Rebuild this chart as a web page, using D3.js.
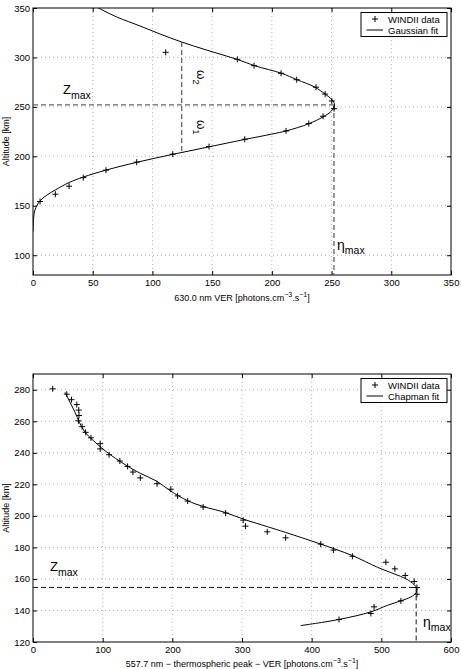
<!DOCTYPE html>
<html>
<head>
<meta charset="utf-8">
<script src="https://cdn.jsdelivr.net/npm/d3@7"></script>
<style>
  body { margin: 0; background: #fff; }
  text { font-family: "Liberation Sans", Arial, sans-serif; fill: #000; }
</style>
</head>
<body>
<svg id="fig" width="461" height="669"></svg>
<script>

// ---- 630.0 nm panel (Gaussian fit) : [VER, altitude km]
let redData = [
    [5.9, 154.3], [18.7, 161.7], [30.2, 169.8], [42.1, 178.5], [61.1, 186],
    [86.8, 194.1], [117, 202.2], [147.4, 209.9], [177.3, 217.3], [211.9, 225.7],
    [230.9, 233.1], [242.9, 240.5], [252.1, 248.2], [250.2, 256], [244.6, 263],
    [237, 269.9], [220.8, 277.5], [207.7, 284], [185.1, 291.7], [171.1, 298.1],
    [111.1, 305.2]
];
let redFit = [
    [0, 124], [0.4, 136], [1.7, 146], [5.9, 155], [11.5, 160.7], [18.7, 166],
    [30.2, 173.5], [42, 179], [61, 186], [87, 194], [117, 202], [147, 209.5],
    [177, 217], [200, 222.5], [212, 225.7], [231, 233], [243, 240], [250, 246],
    [252.5, 252], [250.5, 257], [244.5, 263], [236, 270], [221, 277.5], [208, 284],
    [186, 291.5], [171, 298], [145, 307.6], [124.5, 315.6], [106.4, 323.7],
    [89.6, 331.8], [70, 341], [54.7, 350]
];
let redXTicks = [0, 50, 100, 150, 200, 250, 300, 350];
let redYTicks = [100, 150, 200, 250, 300, 350];
let redPeak = {ver: 252, alt: 252};
let redOmega = {ver: 124.5, low: 204.5, high: 315.6};

// ---- 557.7 nm panel (Chapman fit)
let greenData = [
    [28.3, 280.6], [48.5, 277.2], [55.2, 273.7], [62.8, 270.6], [65.7, 267.1],
    [66, 263.7], [65.2, 260.3], [70.5, 256.6], [75.5, 253], [83.2, 249.5],
    [96.4, 245.8], [96.4, 242.5], [109.2, 238.8], [124.7, 234.8], [135.8, 231.4],
    [143.4, 227.8], [154, 224.1], [178, 220.4], [197.8, 216.9], [207.6, 212.7],
    [222, 209.4], [244.2, 205.6], [276.5, 201.8], [301.7, 197.3], [305, 193.5],
    [336.2, 189.9], [362.6, 186.1], [413, 182.1], [431.2, 178.3], [458.5, 174.4],
    [506.5, 170.6], [519.4, 166.4], [534.3, 162.2], [547.2, 158.4], [551.1, 154.6],
    [551.1, 150.3], [528.1, 146.1], [489.6, 142.3], [484.9, 138.1], [439.3, 134.3]
];
let greenFit = [
    [46, 278.4], [53.2, 272], [60.4, 265.7], [66.7, 259.3], [74.8, 253],
    [86.8, 247.7], [98.8, 243], [113.2, 238.1], [134.8, 231.8], [154, 227],
    [178, 221.9], [197.1, 215.9], [222, 209.6], [244.2, 206], [276.3, 202.1],
    [301.7, 198], [336.2, 193.2], [362.6, 189.5], [413, 182.1], [458.5, 174.8],
    [494.5, 167.4], [518.5, 163.2], [535.3, 160.1], [547.2, 156.3], [551.1, 153.8],
    [549.7, 151.1], [542.5, 148.6], [528.1, 146.1], [508.9, 143.3], [484.9, 139.1],
    [439.3, 134.3], [384.2, 130.4]
];
let greenXTicks = [0, 100, 200, 300, 400, 500, 600];
let greenYTicks = [120, 140, 160, 180, 200, 220, 240, 260, 280];
let greenPeak = {ver: 550, alt: 154.6};

let svg = d3.select("#fig");

let plusPath = "M-3,0H3M0,-3V3";

function drawPanel(p) {
    let x = d3.scaleLinear().domain(p.xDomain).range([p.left, p.right]);
    let y = d3.scaleLinear().domain(p.yDomain).range([p.bottom, p.top]);
    let g = svg.append("g");

    // grid
    g.selectAll(".vgrid")
        .data(p.xTicks.slice(1, -1))
        .join("line")
        .attr("x1", d => x(d)).attr("x2", d => x(d))
        .attr("y1", p.top).attr("y2", p.bottom)
        .style("stroke", "#999").style("stroke-width", 0.8)
        .style("stroke-dasharray", "1,3");
    g.selectAll(".hgrid")
        .data(p.yTicks.filter(d => d > p.yDomain[0] && d < p.yDomain[1]))
        .join("line")
        .attr("x1", p.left).attr("x2", p.right)
        .attr("y1", d => y(d)).attr("y2", d => y(d))
        .style("stroke", "#999").style("stroke-width", 0.8)
        .style("stroke-dasharray", "1,3");

    // axes, ticks inside
    let xb = g.append("g")
        .attr("transform", `translate(0, ${p.bottom})`)
        .call(d3.axisBottom(x).tickValues(p.xTicks).tickSize(-4).tickPadding(4));
    g.append("g")
        .attr("transform", `translate(0, ${p.top})`)
        .call(d3.axisTop(x).tickValues(p.xTicks).tickSize(-4).tickFormat(""));
    let yl = g.append("g")
        .attr("transform", `translate(${p.left}, 0)`)
        .call(d3.axisLeft(y).tickValues(p.yTicks).tickSize(-4).tickPadding(3));
    g.append("g")
        .attr("transform", `translate(${p.right}, 0)`)
        .call(d3.axisRight(y).tickValues(p.yTicks).tickSize(-4).tickFormat(""));
    g.selectAll(".domain").remove();
    g.selectAll(".tick line").style("stroke", "#000");
    g.selectAll(".tick text")
        .style("font-family", '"Liberation Sans", Arial, sans-serif')
        .style("font-size", "9.5px")
        .style("fill", "#000");

    g.append("rect")
        .attr("x", p.left).attr("y", p.top)
        .attr("width", p.right - p.left).attr("height", p.bottom - p.top)
        .style("fill", "none").style("stroke", "#000").style("stroke-width", 1);

    // dashed peak lines
    g.append("line")
        .attr("x1", x(0)).attr("x2", x(p.peak.ver))
        .attr("y1", y(p.peak.alt)).attr("y2", y(p.peak.alt))
        .style("stroke", p.dashColor).style("stroke-width", p.dashWidth)
        .style("stroke-dasharray", "5,3");
    g.append("line")
        .attr("x1", x(p.peak.ver)).attr("x2", x(p.peak.ver))
        .attr("y1", y(p.peak.alt)).attr("y2", p.bottom)
        .style("stroke", p.dashColor).style("stroke-width", p.dashWidth)
        .style("stroke-dasharray", "5,3");
    if (p.omega) {
        g.append("line")
            .attr("x1", x(p.omega.ver)).attr("x2", x(p.omega.ver))
            .attr("y1", y(p.omega.high)).attr("y2", y(p.omega.low))
            .style("stroke", p.dashColor).style("stroke-width", p.dashWidth)
            .style("stroke-dasharray", "5,3");
    }

    // fit curve
    let clipId = "clip" + p.top;
    g.append("clipPath").attr("id", clipId)
        .append("rect")
        .attr("x", p.left).attr("y", p.top)
        .attr("width", p.right - p.left).attr("height", p.bottom - p.top);
    let line = d3.line()
        .x(d => x(d[0]))
        .y(d => y(d[1]))
        .curve(d3.curveCatmullRom);
    g.append("path")
        .datum(p.fit)
        .attr("clip-path", `url(#${clipId})`)
        .attr("d", line)
        .style("fill", "none").style("stroke", "#000").style("stroke-width", 1);

    // data markers
    g.selectAll(".pt")
        .data(p.data)
        .join("path")
        .attr("transform", d => `translate(${x(d[0])}, ${y(d[1])})`)
        .attr("d", plusPath)
        .style("stroke", "#000").style("stroke-width", 1).style("fill", "none");

    // axis titles
    g.append("text")
        .attr("transform", `translate(9, ${(p.top + p.bottom) / 2}) rotate(-90)`)
        .attr("text-anchor", "middle")
        .style("font-size", "9px")
        .text("Altitude [km]");

    let xt = g.append("text")
        .attr("x", (p.left + p.right) / 2)
        .attr("y", p.xTitleY)
        .attr("text-anchor", "middle")
        .style("font-size", "9px");
    xt.append("tspan").text(p.xTitle + " [photons.cm");
    xt.append("tspan").attr("dy", -4).style("font-size", "7px").text("−3");
    xt.append("tspan").attr("dy", 4).text(".s");
    xt.append("tspan").attr("dy", -4).style("font-size", "7px").text("−1");
    xt.append("tspan").attr("dy", 4).text("]");

    // Zmax and eta max labels
    let zl = g.append("text")
        .attr("x", p.zLabel[0]).attr("y", p.zLabel[1])
        .style("font-size", "13px");
    zl.append("tspan").text("Z");
    zl.append("tspan").attr("dy", 5).style("font-size", "10.5px").text("max");

    let el = g.append("text")
        .attr("x", p.etaLabel[0]).attr("y", p.etaLabel[1])
        .style("font-size", "14px");
    el.append("tspan").text("η");
    el.append("tspan").attr("dy", 4).style("font-size", "10.5px").text("max");

    // legend
    let lg = g.append("g");
    lg.append("rect")
        .attr("x", 361).attr("y", p.top + 4.5)
        .attr("width", 86).attr("height", 24)
        .style("fill", "#fff").style("stroke", "#000").style("stroke-width", 1);
    lg.append("path")
        .attr("transform", `translate(375, ${p.top + 11})`)
        .attr("d", plusPath)
        .style("stroke", "#000").style("fill", "none");
    lg.append("line")
        .attr("x1", 366.5).attr("x2", 383)
        .attr("y1", p.top + 22).attr("y2", p.top + 22)
        .style("stroke", "#000");
    lg.selectAll(".lt")
        .data(["WINDII data", p.fitName])
        .join("text")
        .attr("x", 388)
        .attr("y", (d, i) => p.top + 14.5 + i * 11)
        .style("font-size", "9.5px")
        .text(d => d);

    return {x, y, g};
}

let top1 = drawPanel({
    left: 33, right: 451, top: 8, bottom: 275,
    xDomain: [0, 350], yDomain: [80, 350],
    xTicks: redXTicks, yTicks: redYTicks,
    data: redData, fit: redFit, peak: redPeak, omega: redOmega,
    dashColor: "#666", dashWidth: 1.3,
    xTitle: "630.0 nm VER", xTitleY: 301,
    zLabel: [63, 94], etaLabel: [337, 250],
    fitName: "Gaussian fit"
});

// omega labels, rotated
[["2", 70], ["1", 120]].forEach(function(o) {
    let t = top1.g.append("text")
        .attr("transform", `translate(196.5, ${o[1]}) rotate(90)`)
        .style("font-size", "12px");
    t.append("tspan").text("ω");
    t.append("tspan").attr("dy", 4).style("font-size", "9px").text(o[0]);
});

drawPanel({
    left: 33, right: 451, top: 374, bottom: 642,
    xDomain: [0, 600], yDomain: [120, 290],
    xTicks: greenXTicks, yTicks: greenYTicks,
    data: greenData, fit: greenFit, peak: greenPeak, omega: null,
    dashColor: "#111", dashWidth: 1,
    xTitle: "557.7 nm − thermospheric peak − VER", xTitleY: 667,
    zLabel: [50, 570.5], etaLabel: [423, 627],
    fitName: "Chapman fit"
});

</script>
</body>
</html>
